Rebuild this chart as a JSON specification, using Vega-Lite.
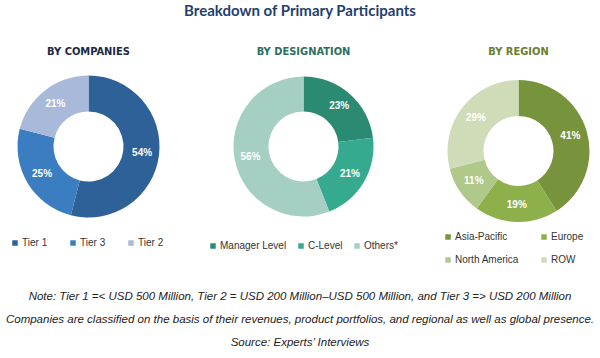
{
  "$schema": "https://vega.github.io/schema/vega-lite/v6.json",
  "background": "white",
  "padding": {"left": 5, "top": 4, "right": 0, "bottom": 0},
  "title": {"text": "Breakdown of Primary Participants", "font": "Lato", "fontSize": 15, "fontWeight": "bold", "color": "#1F3F6E", "anchor": "middle", "offset": 27},
  "datasets": {
    "companies": [
      {"seg": "Tier 1", "share": 0.54, "k": 1},
      {"seg": "Tier 3", "share": 0.25, "k": 2},
      {"seg": "Tier 2", "share": 0.21, "k": 3}
    ],
    "designation": [
      {"seg": "Manager Level", "share": 0.23, "k": 1},
      {"seg": "C-Level", "share": 0.21, "k": 2},
      {"seg": "Others*", "share": 0.56, "k": 3}
    ],
    "region": [
      {"seg": "Asia-Pacific", "share": 0.41, "k": 1},
      {"seg": "Europe", "share": 0.19, "k": 2},
      {"seg": "North America", "share": 0.11, "k": 3},
      {"seg": "ROW", "share": 0.29, "k": 4}
    ],
    "notes": [
      {"line": "Note: Tier 1 =< USD 500 Million, Tier 2 = USD 200 Million–USD 500 Million, and Tier 3 => USD 200 Million"},
      {"line": "Companies are classified on the basis of their revenues, product portfolios, and regional as well as global presence."},
      {"line": "Source: Experts’ Interviews"}
    ]
  },
  "spacing": 20,
  "vconcat": [
    {
      "bounds": "flush",
      "spacing": 72,
      "resolve": {"scale": {"color": "independent"}, "legend": {"color": "independent"}},
      "hconcat": [
        {
          "width": 143, "height": 143,
          "title": {"text": "BY COMPANIES", "anchor": "middle", "offset": 9, "baseline": "alphabetic", "font": "Liberation Sans Narrow, DejaVu Sans Condensed", "fontSize": 11, "fontWeight": "bold", "color": "#1B2A3F"},
          "data": {"name": "companies"},
          "encoding": {
            "theta": {"field": "share", "type": "quantitative", "stack": true},
            "order": {"field": "k", "type": "quantitative"}
          },
          "layer": [
            {"mark": {"type": "arc", "innerRadius": 35, "outerRadius": 71},
             "encoding": {"color": {"field": "seg", "type": "nominal", "sort": null,
              "scale": {"domain": ["Tier 1", "Tier 3", "Tier 2"], "range": ["#2F6199", "#3A7DC0", "#A9B9D9"]},
              "legend": {"orient": "none", "legendX": -7, "legendY": 163, "direction": "horizontal", "columns": 3, "title": null, "symbolType": "square", "symbolSize": 30, "symbolStrokeWidth": 0, "labelFont": "Liberation Sans", "labelFontSize": 10, "labelColor": "#333333", "columnPadding": 20, "padding": 0, "labelOffset": 2}}}},
            {"mark": {"type": "text", "radius": 54, "font": "Liberation Sans", "fontWeight": "bold", "fontSize": 10},
             "encoding": {"detail": {"field": "seg"}, "color": {"value": "white"}, "text": {"field": "share", "type": "quantitative", "format": ".0%"}}}
          ]
        },
        {
          "width": 143, "height": 143,
          "title": {"text": "BY DESIGNATION", "anchor": "middle", "offset": 9, "baseline": "alphabetic", "font": "Liberation Sans Narrow, DejaVu Sans Condensed", "fontSize": 11, "fontWeight": "bold", "color": "#2E6E5E"},
          "data": {"name": "designation"},
          "encoding": {
            "theta": {"field": "share", "type": "quantitative", "stack": true},
            "order": {"field": "k", "type": "quantitative"}
          },
          "layer": [
            {"mark": {"type": "arc", "innerRadius": 35, "outerRadius": 70},
             "encoding": {"color": {"field": "seg", "type": "nominal", "sort": null,
              "scale": {"domain": ["Manager Level", "C-Level", "Others*"], "range": ["#2A8A72", "#36AA8E", "#A5CFC2"]},
              "legend": {"orient": "none", "legendX": -24, "legendY": 166, "direction": "horizontal", "columns": 3, "title": null, "symbolType": "square", "symbolSize": 30, "symbolStrokeWidth": 0, "labelFont": "Liberation Sans", "labelFontSize": 10, "labelColor": "#333333", "columnPadding": 9, "padding": 0, "labelOffset": 2}}}},
            {"mark": {"type": "text", "radius": 54, "font": "Liberation Sans", "fontWeight": "bold", "fontSize": 10},
             "encoding": {"detail": {"field": "seg"}, "color": {"value": "white"}, "text": {"field": "share", "type": "quantitative", "format": ".0%"}}}
          ]
        },
        {
          "width": 143, "height": 152,
          "title": {"text": "BY REGION", "anchor": "middle", "offset": 9, "baseline": "alphabetic", "font": "Liberation Sans Narrow, DejaVu Sans Condensed", "fontSize": 11, "fontWeight": "bold", "color": "#6B7D2E"},
          "data": {"name": "region"},
          "encoding": {
            "theta": {"field": "share", "type": "quantitative", "stack": true},
            "order": {"field": "k", "type": "quantitative"}
          },
          "layer": [
            {"mark": {"type": "arc", "innerRadius": 35, "outerRadius": 71},
             "encoding": {"color": {"field": "seg", "type": "nominal", "sort": null,
              "scale": {"domain": ["Asia-Pacific", "Europe", "North America", "ROW"], "range": ["#77933C", "#8DB04B", "#B0C98A", "#CFDCB7"]},
              "legend": {"orient": "none", "legendX": -4, "legendY": 157, "direction": "horizontal", "columns": 2, "title": null, "symbolType": "square", "symbolSize": 30, "symbolStrokeWidth": 0, "labelFont": "Liberation Sans", "labelFontSize": 10, "labelColor": "#333333", "columnPadding": 20, "rowPadding": 13, "padding": 0, "labelOffset": 2}}}},
            {"mark": {"type": "text", "radius": 54, "font": "Liberation Sans", "fontWeight": "bold", "fontSize": 10},
             "encoding": {"detail": {"field": "seg"}, "color": {"value": "white"}, "text": {"field": "share", "type": "quantitative", "format": ".0%"}}}
          ]
        }
      ]
    },
    {
      "width": 566, "height": 70,
      "data": {"name": "notes"},
      "mark": {"type": "text", "font": "Liberation Sans", "fontStyle": "italic", "fontSize": 11.5, "color": "#222222"},
      "encoding": {
        "y": {"field": "line", "type": "nominal", "sort": null, "axis": null},
        "text": {"field": "line", "type": "nominal"}
      }
    }
  ],
  "config": {"view": {"stroke": null}}
}
